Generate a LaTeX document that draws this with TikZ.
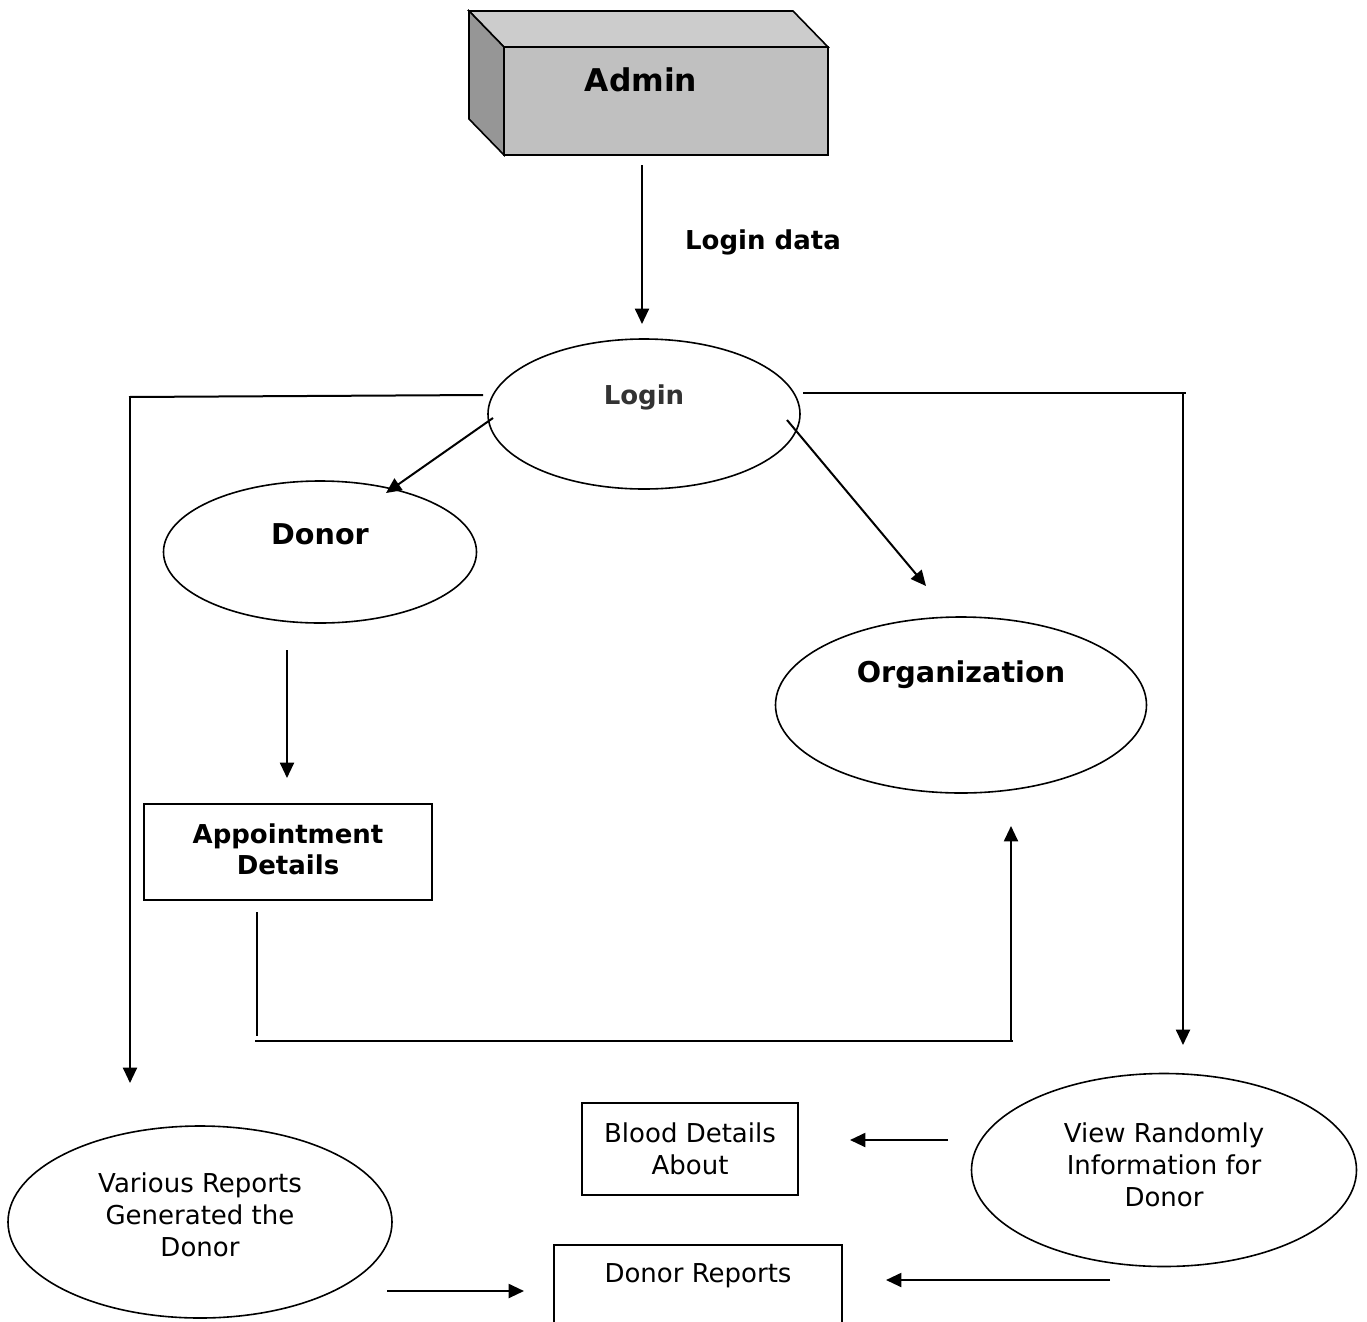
\documentclass[tikz,border=0pt]{standalone}
\usepackage{fontspec}
\setmainfont{DejaVu Sans}
\usetikzlibrary{arrows.meta,shapes.geometric}
\definecolor{topgray}{HTML}{CCCCCC}
\definecolor{frontgray}{HTML}{C0C0C0}
\definecolor{sidegray}{HTML}{969696}
\definecolor{logintext}{HTML}{333333}
\tikzset{
  conn/.style={line width=1.5pt},
  arr/.style={line width=1.5pt,-{Triangle[length=11.5pt,width=10.5pt]}},
  procshape/.style={draw,line width=1.2pt,ellipse,inner sep=0pt},
  storebox/.style={draw,line width=1.2pt,rectangle,inner sep=0pt},
  reg/.style={font=\fontsize{19.5}{24}\selectfont,align=center,inner sep=0pt},
  bld/.style={font=\fontsize{19.5}{23.5}\selectfont\bfseries,align=center,inner sep=0pt},
  bigbld/.style={font=\fontsize{21.5}{26}\selectfont\bfseries,align=center,inner sep=0pt},
}
\begin{document}
\begin{tikzpicture}[x=0.75pt,y=-0.75pt]
\useasboundingbox (0,0) rectangle (1367,1321);
\clip (0,0) rectangle (1367,1321);
% Admin 3D box
\fill[topgray,draw=black,line width=1.2pt] (469,11) -- (793,11) -- (828,47) -- (504,47) -- cycle;
\fill[sidegray,draw=black,line width=1.2pt] (469,11) -- (504,47) -- (504,155) -- (469,119) -- cycle;
\node[storebox,fill=frontgray,minimum width=324*0.75pt,minimum height=108*0.75pt] (admin) at (666,101) {};
\node[font=\fontsize{23.5}{28}\selectfont\bfseries,inner sep=0pt] (admintext) at (641,80) {Admin};
% Login
\node[procshape,minimum width=312*0.75pt,minimum height=150*0.75pt] (login) at (644,414) {};
\node[bld,text=logintext] (logintext) at (644,397) {Login};
% Donor
\node[procshape,minimum width=313*0.75pt,minimum height=142*0.75pt] (donor) at (320,552) {};
\node[bigbld] (donortext) at (320,534) {Donor};
% Organization
\node[procshape,minimum width=371*0.75pt,minimum height=176*0.75pt] (org) at (961,705) {};
\node[bigbld] (orgtext) at (961,675) {Organization};
% Appointment details
\node[storebox,minimum width=288*0.75pt,minimum height=96*0.75pt] (appt) at (288,852) {};
\node[bld] (appttext) at (288,849) {Appointment\\Details};
% Various reports
\node[procshape,minimum width=384*0.75pt,minimum height=192*0.75pt] (various) at (200,1222) {};
\node[reg] (varioustext) at (200,1215) {Various Reports\\Generated the\\Donor};
% Blood details
\node[storebox,minimum width=216*0.75pt,minimum height=92*0.75pt] (blood) at (690,1149) {};
\node[reg] (bloodtext) at (690,1149) {Blood Details\\About};
% View randomly
\node[procshape,minimum width=385*0.75pt,minimum height=193*0.75pt] (view) at (1164,1170) {};
\node[reg] (viewtext) at (1164,1165) {View Randomly\\Information for\\Donor};
% Donor reports (cut off at bottom)
\node[storebox,minimum width=288*0.75pt,minimum height=110*0.75pt] (reports) at (698,1300) {};
\node[reg] (reportstext) at (698,1276) {Donor Reports};
% Connector end points
\coordinate (a1) at (642,165);
\coordinate (a2) at (642,324);
\node[bld] (logindata) at (763,242) {Login data};
\coordinate (l1) at (483,395);
\coordinate (l2) at (129,397);
\coordinate (l3) at (130,397);
\coordinate (l4) at (130,1083);
\coordinate (r1) at (803,393);
\coordinate (r2) at (1186,393);
\coordinate (r3) at (1183,393);
\coordinate (r4) at (1183,1045);
\coordinate (d1) at (493,418);
\coordinate (d2) at (386,493);
\coordinate (o1) at (787,420);
\coordinate (o2) at (926,586);
\coordinate (p1) at (287,650);
\coordinate (p2) at (287,778);
\coordinate (q1) at (257,912);
\coordinate (q2) at (257,1036);
\coordinate (q3) at (255,1041);
\coordinate (q4) at (1013,1041);
\coordinate (q5) at (1011,1041);
\coordinate (q6) at (1011,826);
\coordinate (v1) at (387,1291);
\coordinate (v2) at (524,1291);
\coordinate (b1) at (948,1140);
\coordinate (b2) at (850,1140);
\coordinate (w1) at (1110,1280);
\coordinate (w2) at (886,1280);
% Connectors
\draw[arr] (a1) -- (a2);
\draw[conn] (l1) -- (l2);
\draw[arr] (l3) -- (l4);
\draw[conn] (r1) -- (r2);
\draw[arr] (r3) -- (r4);
\draw[arr] (d1) -- (d2);
\draw[arr] (o1) -- (o2);
\draw[arr] (p1) -- (p2);
\draw[conn] (q1) -- (q2);
\draw[conn] (q3) -- (q4);
\draw[arr] (q5) -- (q6);
\draw[arr] (v1) -- (v2);
\draw[arr] (b1) -- (b2);
\draw[arr] (w1) -- (w2);
\end{tikzpicture}
\end{document}
